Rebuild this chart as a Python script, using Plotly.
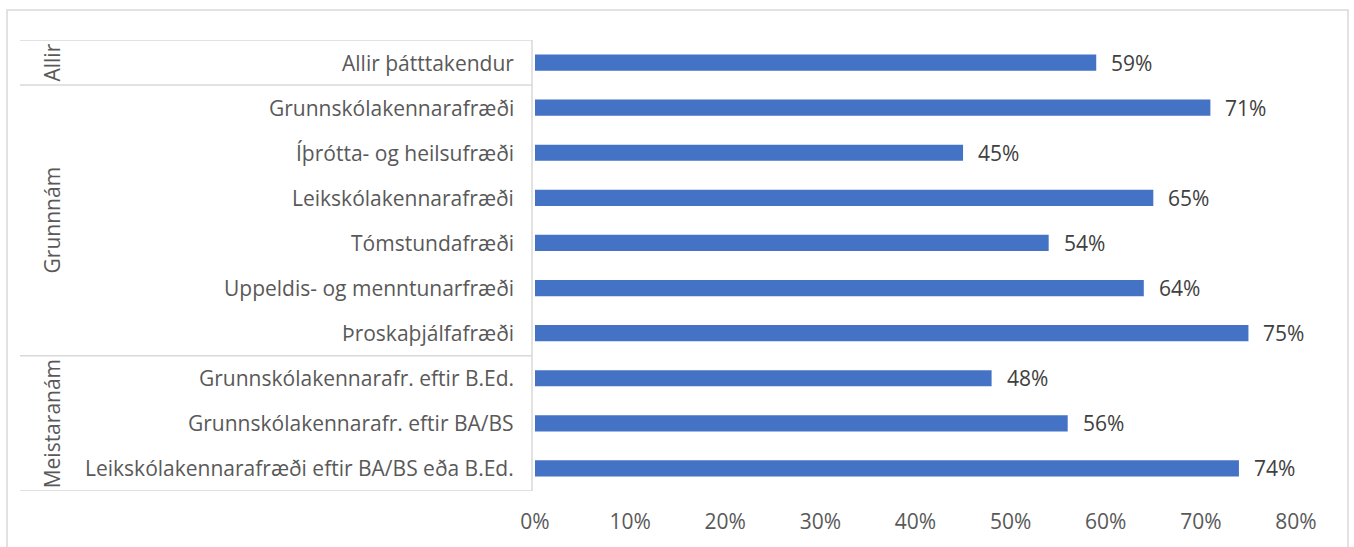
import plotly.graph_objects as go

categories = [
    "Allir þátttakendur",
    "Grunnskólakennarafræði",
    "Íþrótta- og heilsufræði",
    "Leikskólakennarafræði",
    "Tómstundafræði",
    "Uppeldis- og menntunarfræði",
    "Þroskaþjálfafræði",
    "Grunnskólakennarafr. eftir B.Ed.",
    "Grunnskólakennarafr. eftir BA/BS",
    "Leikskólakennarafræði eftir BA/BS eða B.Ed.",
]
values = [0.59, 0.71, 0.45, 0.65, 0.54, 0.64, 0.75, 0.48, 0.56, 0.74]
groups = ["Allir", "Grunnnám", "Meistaranám"]
group_sizes = [1, 6, 3]
x_ticks = [0, 0.1, 0.2, 0.3, 0.4, 0.5, 0.6, 0.7, 0.8]
x_tick_labels = ["0%", "10%", "20%", "30%", "40%", "50%", "60%", "70%", "80%"]

W, H = 1354, 547
L, R, T, B = 535, 58, 40, 56
pw = W - L - R
ph = H - T - B

FONT = "Open Sans"
FS = 21
TXT = "#595959"
LINE = "#d9d9d9"

pos = list(range(len(categories)))

fig = go.Figure()
fig.add_trace(go.Bar(
    x=values, y=pos, orientation="h",
    marker=dict(color="#4472C4", line=dict(width=0)),
    width=0.36, hoverinfo="skip",
))

annotations = []
for v, p in zip(values, pos):
    annotations.append(dict(x=v, y=p, xref="x", yref="y", text=f"{round(v*100)}%",
                            showarrow=False, xanchor="left", xshift=13,
                            font=dict(family=FONT, size=FS, color="#404040")))
for c, p in zip(categories, pos):
    annotations.append(dict(x=0, y=p, xref="paper", yref="y", text=c,
                            showarrow=False, xanchor="right", xshift=-19,
                            font=dict(family=FONT, size=FS, color=TXT)))

def px2paper_x(px):
    return (px - L) / pw

def px2paper_y(py):
    return (H - B - py) / ph

shapes = []
# outer frame
shapes.append(dict(type="rect", xref="paper", yref="paper",
                   x0=px2paper_x(7), x1=px2paper_x(1348),
                   y0=px2paper_y(560), y1=px2paper_y(10),
                   line=dict(color=LINE, width=1.5)))
# table lines
start = 0
bounds = [-0.5]
for g, n in zip(groups, group_sizes):
    bounds.append(start + n - 0.5)
    mid = start + (n - 1) / 2
    annotations.append(dict(x=px2paper_x(36), y=mid, xref="paper", yref="y", text=g,
                            showarrow=False, textangle=-90,
                            font=dict(family=FONT, size=FS, color=TXT)))
    start += n
for b in bounds:
    shapes.append(dict(type="line", xref="paper", yref="y",
                       x0=px2paper_x(20), x1=px2paper_x(532), y0=b, y1=b,
                       line=dict(color=LINE, width=1.5)))
shapes.append(dict(type="line", xref="paper", yref="y",
                   x0=px2paper_x(532), x1=px2paper_x(532), y0=-0.5, y1=len(categories) - 0.5,
                   line=dict(color=LINE, width=1.5)))

fig.update_layout(
    width=W, height=H,
    margin=dict(l=L, r=R, t=T, b=B, autoexpand=False),
    paper_bgcolor="white", plot_bgcolor="white",
    showlegend=False,
    annotations=annotations, shapes=shapes,
    font=dict(family=FONT, size=FS, color=TXT),
    xaxis=dict(range=[0, 0.8], tickvals=x_ticks, ticktext=x_tick_labels,
               showgrid=False, zeroline=False, showline=False,
               ticks="", ticklabelstandoff=16,
               tickfont=dict(family=FONT, size=FS, color=TXT)),
    yaxis=dict(range=[len(categories) - 0.5, -0.5], showticklabels=False,
               showgrid=False, zeroline=False, showline=False, ticks=""),
)

fig.write_html("out.html", config={"displayModeBar": False},
               post_script="document.body.style.margin='0';")
